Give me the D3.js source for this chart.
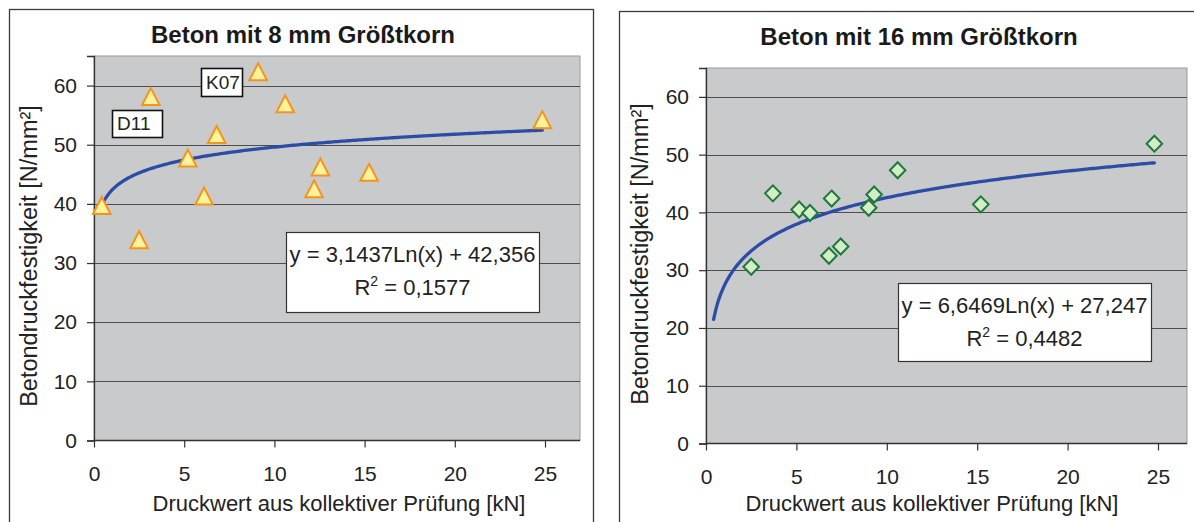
<!DOCTYPE html>
<html>
<head>
<meta charset="utf-8">
<script src="https://cdn.jsdelivr.net/npm/d3@7"></script>
<style>
  html, body { margin: 0; padding: 0; background: #fff; }
  svg { display: block; font-family: "Liberation Sans", Arial, sans-serif; }
</style>
</head>
<body>
<svg id="chart" width="1194" height="522"></svg>
<script>
// ---------- data ----------
const xTicks = [0, 5, 10, 15, 20, 25];
const yTicks = [0, 10, 20, 30, 40, 50, 60];

// 8 mm aggregate (triangles)
const x8 = [0.43, 2.5, 3.15, 5.2, 6.1, 6.8, 9.1, 10.6, 12.2, 12.55, 15.25, 24.85];
const y8 = [39.4, 33.6, 57.8, 47.4, 41.0, 51.4, 62.0, 56.6, 42.2, 45.9, 45.0, 53.9];
const fit8 = [3.1437, 42.356];          // y = a*ln(x) + b
const fitRange8 = [0.43, 24.85];
const eq8 = ["y = 3,1437Ln(x) + 42,356", "0,1577"];
const labels8 = ["D11", "K07"];

// 16 mm aggregate (diamonds)
const x16 = [2.5, 3.7, 5.15, 5.75, 6.8, 6.95, 7.45, 9.0, 9.3, 10.6, 15.2, 24.8];
const y16 = [30.6, 43.3, 40.5, 39.9, 32.5, 42.4, 34.1, 40.8, 43.1, 47.3, 41.4, 51.9];
const fit16 = [6.6469, 27.247];
const fitRange16 = [0.42, 24.8];
const eq16 = ["y = 6,6469Ln(x) + 27,247", "0,4482"];

const titles = ["Beton mit 8 mm Größtkorn", "Beton mit 16 mm Größtkorn"];
const xTitle = "Druckwert aus kollektiver Prüfung [kN]";
const yTitle = "Betondruckfestigkeit [N/mm²]";

// ---------- drawing ----------
const svg = d3.select("#chart");

function drawPanel(cfg) {
  const g = svg.append("g");
  // panel frame
  g.append("rect")
    .attr("x", cfg.frame[0] + 0.5).attr("y", cfg.frame[1] + 0.5)
    .attr("width", cfg.frame[2]).attr("height", cfg.frame[3])
    .attr("fill", "#fff").attr("stroke", "#3a3a3a").attr("stroke-width", 1.3);

  const x = d3.scaleLinear().domain([0, 25]).range([cfg.px0, cfg.px25]);
  const y = d3.scaleLinear().domain([0, 65]).range([cfg.bottom, cfg.top]);
  const right = cfg.right;

  // plot area
  g.append("rect")
    .attr("x", cfg.px0).attr("y", cfg.top)
    .attr("width", right - cfg.px0).attr("height", cfg.bottom - cfg.top)
    .attr("fill", "#c9cacc").attr("stroke", "#9a9a9a").attr("stroke-width", 1);

  // gridlines
  g.append("g").selectAll("line").data(yTicks.filter(d => d > 0)).join("line")
    .attr("x1", cfg.px0).attr("x2", right)
    .attr("y1", d => Math.round(y(d)) + 0.5).attr("y2", d => Math.round(y(d)) + 0.5)
    .attr("stroke", "#4d4d4d").attr("stroke-width", 1.1);

  // y axis
  const ya = g.append("g").attr("transform", `translate(${cfg.px0},0)`)
    .call(d3.axisLeft(y).tickValues(yTicks).tickSize(7).tickPadding(10).tickFormat(d3.format("d")));
  ya.select(".domain").attr("stroke", "#333").attr("stroke-width", 1.3);
  ya.selectAll(".tick line").attr("stroke", "#333").attr("stroke-width", 1.2);
  ya.selectAll("text").attr("font-size", 21).attr("fill", "#222")
    .attr("font-family", "Liberation Sans, Arial, sans-serif");

  // x axis
  const xa = g.append("g").attr("transform", `translate(0,${cfg.bottom})`)
    .call(d3.axisBottom(x).tickValues(xTicks).tickSize(7).tickPadding(19).tickFormat(d3.format("d")));
  xa.select(".domain").remove();
  xa.append("line").attr("x1", cfg.px0).attr("x2", right).attr("y1", 0).attr("y2", 0)
    .attr("stroke", "#333").attr("stroke-width", 1.5);
  xa.selectAll(".tick line").attr("stroke", "#333").attr("stroke-width", 1.2);
  xa.selectAll("text").attr("font-size", 21).attr("fill", "#222")
    .attr("font-family", "Liberation Sans, Arial, sans-serif");

  // titles
  g.append("text").attr("x", cfg.titleX).attr("y", cfg.titleY)
    .attr("text-anchor", "middle").attr("font-size", 24).attr("font-weight", "bold")
    .attr("fill", "#1a1a1a").text(cfg.title);
  g.append("text").attr("x", cfg.xTitleX).attr("y", 511)
    .attr("text-anchor", "middle").attr("font-size", 22).attr("fill", "#222").text(xTitle);
  g.append("text")
    .attr("transform", `translate(${cfg.yTitleX},${cfg.yTitleY}) rotate(-90)`)
    .attr("text-anchor", "middle").attr("font-size", 23.5).attr("fill", "#222").text(yTitle);

  // trendline
  const xs = d3.range(0, 201).map(i => cfg.fitRange[0] + (cfg.fitRange[1] - cfg.fitRange[0]) * i / 200);
  const line = d3.line().x(d => x(d)).y(d => y(cfg.fit[0] * Math.log(d) + cfg.fit[1]));
  g.append("path").datum(xs).attr("d", line)
    .attr("fill", "none").attr("stroke", "#2c4ca6").attr("stroke-width", 3.3)
    .attr("stroke-linecap", "round");

  // markers
  const pts = cfg.xs.map((v, i) => [v, cfg.ys[i]]);
  if (cfg.marker === "tri") {
    g.append("g").selectAll("path").data(pts).join("path")
      .attr("transform", d => `translate(${x(d[0])},${y(d[1])})`)
      .attr("d", "M0,-10.5 L8.8,6.5 L-8.8,6.5 Z")
      .attr("fill", "#fff29c").attr("stroke", "#f5941d").attr("stroke-width", 2)
      .attr("stroke-linejoin", "miter");
  } else {
    g.append("g").selectAll("path").data(pts).join("path")
      .attr("transform", d => `translate(${x(d[0])},${y(d[1])})`)
      .attr("d", "M0,-8 L7.8,0 L0,8 L-7.8,0 Z")
      .attr("fill", "#d3edc6").attr("stroke", "#1d7a3a").attr("stroke-width", 2);
  }

  // equation box
  const b = cfg.eqBox;
  g.append("rect").attr("x", b[0] + 0.5).attr("y", b[1] + 0.5).attr("width", b[2]).attr("height", b[3])
    .attr("fill", "#fff").attr("stroke", "#333").attr("stroke-width", 1.2);
  const cx = b[0] + b[2] / 2;
  g.append("text").attr("x", cx).attr("y", b[1] + 30).attr("text-anchor", "middle")
    .attr("font-size", 22).attr("fill", "#222").text(cfg.eq[0]);
  const t2 = g.append("text").attr("x", cx).attr("y", b[1] + 63).attr("text-anchor", "middle")
    .attr("font-size", 22).attr("fill", "#222");
  t2.append("tspan").text("R");
  t2.append("tspan").attr("font-size", 14).attr("dy", -9).text("2");
  t2.append("tspan").attr("dy", 9).text(" = " + cfg.eq[1]);

  // point labels
  (cfg.labels || []).forEach(l => {
    g.append("rect").attr("x", l.box[0] + 0.5).attr("y", l.box[1] + 0.5)
      .attr("width", l.box[2]).attr("height", l.box[3])
      .attr("fill", "#fff").attr("stroke", "#111").attr("stroke-width", 1.6);
    g.append("text").attr("x", l.box[0] + 5).attr("y", l.box[1] + l.box[3] - 7)
      .attr("font-size", 19).attr("fill", "#222").text(l.text);
  });
}

drawPanel({
  frame: [9, 9, 584, 540],
  px0: 94, px25: 545, right: 580, top: 56, bottom: 440.5,
  title: titles[0], titleX: 303, titleY: 43,
  xTitleX: 339, yTitleX: 37, yTitleY: 256,
  xs: x8, ys: y8, fit: fit8, fitRange: fitRange8, marker: "tri",
  eqBox: [286, 232, 253, 80], eq: eq8,
  labels: [
    { text: labels8[0], box: [112, 110, 50, 27] },
    { text: labels8[1], box: [201, 68, 41, 28] }
  ]
});

drawPanel({
  frame: [619, 11, 600, 540],
  px0: 706, px25: 1158, right: 1187, top: 68, bottom: 443.5,
  title: titles[1], titleX: 919, titleY: 45,
  xTitleX: 932, yTitleX: 648, yTitleY: 254,
  xs: x16, ys: y16, fit: fit16, fitRange: fitRange16, marker: "dia",
  eqBox: [898, 283, 253, 78], eq: eq16
});
</script>
</body>
</html>
